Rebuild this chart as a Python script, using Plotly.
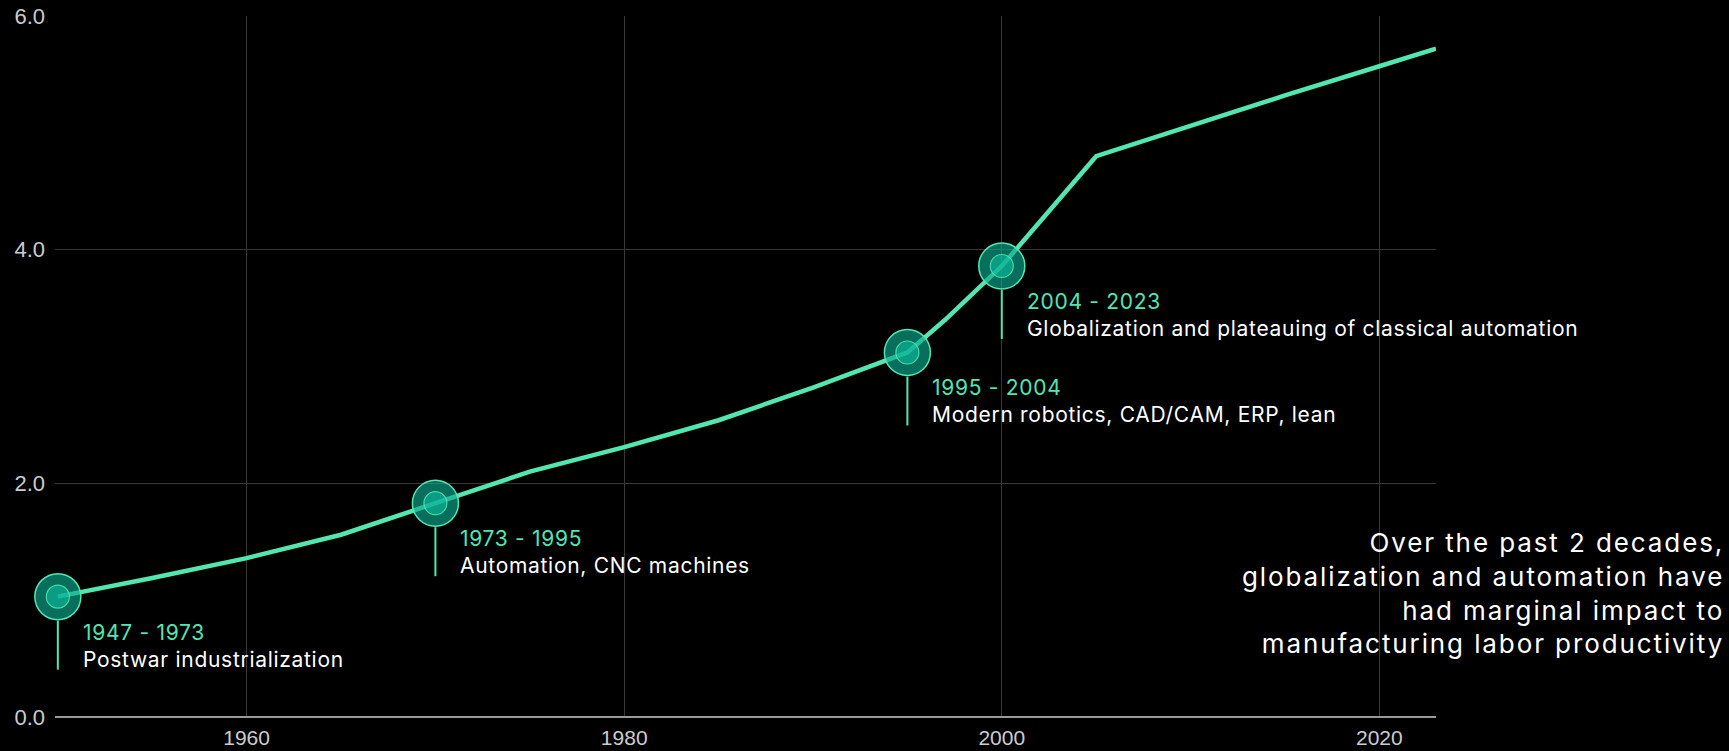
import plotly.graph_objects as go

# ---- data ----
years = [1950, 1955, 1960, 1965, 1970, 1975, 1980, 1985, 1990, 1995, 1997, 2000, 2005, 2010, 2015, 2020, 2023]
productivity = [1.03, 1.19, 1.36, 1.56, 1.83, 2.10, 2.31, 2.54, 2.82, 3.12, 3.40, 3.86, 4.80, 5.06, 5.32, 5.57, 5.72]

milestone_years = [1950, 1970, 1995, 2000]
milestone_periods = ["1947 - 1973", "1973 - 1995", "1995 - 2004", "2004 - 2023"]
milestone_labels = ["Postwar industrialization", "Automation, CNC machines",
                    "Modern robotics, CAD/CAM, ERP, lean",
                    "Globalization and plateauing of classical automation"]
milestone_values = [productivity[years.index(y)] for y in milestone_years]

y_ticks = [0, 2, 4, 6]
x_ticks = [1960, 1980, 2000, 2020]

side_note_lines = ["Over the past 2 decades,", "globalization and automation have",
                   "had marginal impact to", "manufacturing labor productivity"]

GREEN = "#52e6b2"
FONT = "Inter"

fig = go.Figure()
fig.add_trace(go.Scatter(x=years, y=productivity, mode="lines",
                         line=dict(color=GREEN, width=4.5), hoverinfo="skip",
                         showlegend=False))
fig.add_trace(go.Scatter(x=milestone_years, y=milestone_values, mode="markers",
                         marker=dict(size=46, color="rgba(12,170,142,0.65)",
                                     line=dict(color=GREEN, width=1.5)),
                         cliponaxis=False, showlegend=False, hoverinfo="skip"))
fig.add_trace(go.Scatter(x=milestone_years, y=milestone_values, mode="markers",
                         marker=dict(size=23, color="rgba(13,187,158,0.6)",
                                     line=dict(color="rgba(82,230,178,0.85)", width=1.2)),
                         cliponaxis=False, showlegend=False, hoverinfo="skip"))

LS = "letter-spacing:0.7px"
for yr, val, per, lab in zip(milestone_years, milestone_values, milestone_periods, milestone_labels):
    fig.add_shape(type="line", xref="x", yref="y", ysizemode="pixel", yanchor=val,
                  x0=yr, x1=yr, y0=-24, y1=-73,
                  line=dict(color=GREEN, width=2))
    fig.add_annotation(x=yr, y=val, xref="x", yref="y", xanchor="left", yanchor="top",
                       xshift=23, yshift=-21, showarrow=False, align="left",
                       text=(f"<span style='color:{GREEN};{LS}'>{per}</span><br>"
                             f"<span style='{LS}'>{lab}</span>"),
                       font=dict(family=FONT, size=21, color="#ffffff"))

note_text = "<br>".join(f"<span style='letter-spacing:1.9px'>{s}</span>" for s in side_note_lines)
fig.add_annotation(x=(1726 - 55) / 1381, y=(717 - 593) / 700.5, xref="paper", yref="paper",
                   xanchor="right", yanchor="middle", showarrow=False, align="right",
                   text=note_text, font=dict(family=FONT, size=26, color="#ffffff"))

fig.update_layout(
    width=1729, height=751,
    paper_bgcolor="#000000", plot_bgcolor="#000000",
    margin=dict(l=55, r=293, t=16, b=34),
    xaxis=dict(range=[1949.85, 2023], tickvals=x_ticks, showgrid=True, automargin=False,
               gridcolor="#383838", gridwidth=1, zeroline=False, showline=False,
               ticks="", ticklabelstandoff=6,
               tickfont=dict(family="Liberation Sans", size=21, color="#cccccc")),
    yaxis=dict(range=[0, 6], tickvals=y_ticks, tickformat=".1f", showgrid=True, automargin=False,
               gridcolor="#383838", gridwidth=1, zeroline=True,
               zerolinecolor="#9a9a9a", zerolinewidth=1.5, showline=False,
               ticks="", ticklabelstandoff=9,
               tickfont=dict(family="Liberation Sans", size=22, color="#cccccc")),
)

fig.write_html("out.html", config={"displayModeBar": False},
               post_script="document.body.style.margin='0';document.body.style.background='#000';"
                           "document.body.style.overflow='hidden';")
